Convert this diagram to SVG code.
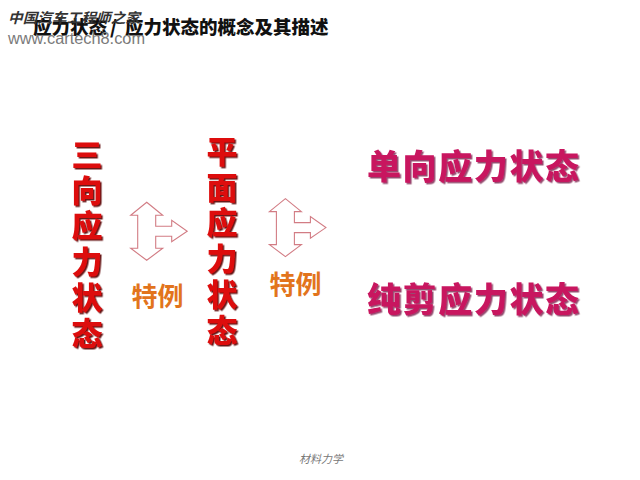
<svg xmlns="http://www.w3.org/2000/svg" xmlns:xlink="http://www.w3.org/1999/xlink" width="640" height="480" viewBox="0 0 640 480">
<style>
.cjk{font-family:"Noto Sans CJK SC","Noto Sans CJK JP",sans-serif;font-weight:900}
.red{fill:#dd0a0a;font-size:31px;filter:url(#sh)}
.mag{fill:#c8145e;font-size:34px;filter:url(#sh2)}
.ex{fill:#e2741c;font-size:26px;font-weight:700}
.arr{fill:#fff;stroke:#d27c84;stroke-width:1.1;stroke-linejoin:miter}
</style>
<defs>
<filter id="sh" x="-20%" y="-20%" width="150%" height="150%">
<feDropShadow dx="1.5" dy="1.5" stdDeviation="0.6" flood-color="#5a0000" flood-opacity="0.9"/>
</filter>
<filter id="sh2" x="-20%" y="-20%" width="150%" height="150%">
<feDropShadow dx="1.5" dy="1.5" stdDeviation="0.6" flood-color="#6a0030" flood-opacity="0.7"/>
</filter>
<path id="tarrow" d="M0,0 L16,13 L9,13 L9,24 L25,24 L25,18 L40.5,29 L25,39.5 L25,34 L9,34 L9,46 L16,46 L0,58 L-16,46 L-9,46 L-9,13 L-16,13 Z"/>
</defs>
<rect width="640" height="480" fill="#fff"/>

<g id="title">
<text class="cjk" y="34" font-size="18.5" font-weight="700" fill="#111"><tspan x="33">应力状态</tspan><tspan x="110">/</tspan><tspan x="125">应力状态的概念及其描述</tspan></text>
</g>

<g id="watermark">
<text x="8" y="23" font-family="Noto Sans CJK SC, sans-serif" font-size="14" font-weight="700" fill="#333" textLength="132" lengthAdjust="spacingAndGlyphs" font-style="italic">中国汽车工程师之家</text>
<text x="8" y="44" font-family="Liberation Sans, sans-serif" font-size="16" fill="#7a7a7a" textLength="137" lengthAdjust="spacingAndGlyphs">www.cartech8.com</text>
</g>

<g id="node-3d">
<text class="cjk red" text-anchor="middle"><tspan x="87" y="166">三</tspan><tspan x="87" y="201.7">向</tspan><tspan x="87" y="237.4">应</tspan><tspan x="87" y="273">力</tspan><tspan x="87" y="308.8">状</tspan><tspan x="87" y="344.5">态</tspan></text>
</g>

<g id="node-plane">
<text class="cjk red" text-anchor="middle"><tspan x="222" y="163">平</tspan><tspan x="222" y="198.7">面</tspan><tspan x="222" y="234.4">应</tspan><tspan x="222" y="270">力</tspan><tspan x="222" y="305.8">状</tspan><tspan x="222" y="341.5">态</tspan></text>
</g>

<g id="node-uniaxial">
<text class="cjk mag" x="367" y="179" textLength="212" lengthAdjust="spacing">单向应力状态</text>
</g>

<g id="node-shear">
<text class="cjk mag" x="367" y="312" textLength="212" lengthAdjust="spacing">纯剪应力状态</text>
</g>

<g id="connectors">
<use xlink:href="#tarrow" class="arr" transform="translate(146.7,202.3)"/>
<use xlink:href="#tarrow" class="arr" transform="translate(285.4,198.6)"/>
<text class="cjk ex" x="157.5" y="306" text-anchor="middle">特例</text>
<text class="cjk ex" x="295.5" y="294" text-anchor="middle">特例</text>
</g>

<g id="footer">
<text x="321" y="463" text-anchor="middle" font-family="Noto Sans CJK SC, sans-serif" font-size="11" font-style="italic" fill="#777">材料力学</text>
</g>
</svg>
